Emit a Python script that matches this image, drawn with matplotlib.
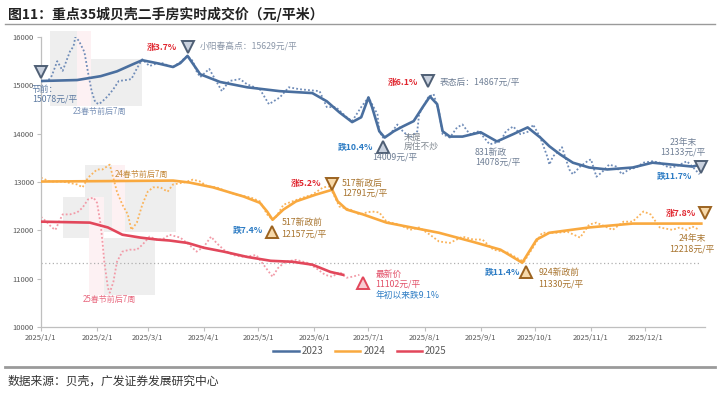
# -*-coding:utf8-*-
import matplotlib
matplotlib.use('Agg')
import matplotlib.pyplot as plt
from matplotlib.patches import Rectangle
from matplotlib.lines import Line2D
from matplotlib.transforms import offset_copy

plt.rcParams['font.family'] = ['Noto Sans CJK SC', 'DejaVu Sans']

# x轴：按2025年对齐的天数（0 = 1月1日）
tick_days = [0, 31, 59, 90, 120, 151, 181, 212, 243, 273, 304, 334]
tick_labels = ['2025/1/1', '2025/2/1', '2025/3/1', '2025/4/1', '2025/5/1', '2025/6/1',
               '2025/7/1', '2025/8/1', '2025/9/1', '2025/10/1', '2025/11/1', '2025/12/1']

# 2023 实时成交价（日度）
raw23_day = [0, 4, 6, 9, 12, 16, 18, 19, 21, 24, 26, 28, 30, 32, 34, 37, 40, 43, 47, 50, 53,
             56, 60, 63, 67, 71, 73, 77, 80, 81, 84, 86, 88, 93, 100, 104, 110, 114, 121, 126,
             132, 137, 143, 154, 158, 163, 169, 172, 177, 181, 186, 187, 189, 193, 197, 200,
             204, 208, 209, 214, 217, 220, 222, 226, 230, 233, 237, 242, 248, 254, 257, 261,
             265, 270, 272, 276, 280, 281, 283, 287, 288, 292, 294, 298, 302, 304, 307, 310,
             314, 318, 321, 325, 329, 333, 338, 342, 347, 351, 357, 360, 364]
raw23_val = [15080, 15100, 15200, 15500, 15300, 15700, 15810, 16000, 15920, 15690, 15270,
             14880, 14650, 14610, 14670, 14780, 14920, 15090, 15110, 15130, 15350, 15540,
             15400, 15440, 15460, 15400, 15380, 15480, 15580, 15610, 15500, 15290, 15170,
             15340, 14880, 15090, 15130, 15020, 14920, 14610, 14750, 14960, 14920, 14880,
             14550, 14550, 14340, 14260, 14550, 14750, 14400, 14050, 13920, 13990, 14190,
             14050, 13920, 14050, 14400, 14750, 14820, 14460, 13990, 13920, 14130, 14190,
             13990, 14050, 13780, 13840, 14050, 14150, 13990, 14050, 14190, 13920, 13510,
             13360, 13530, 13670, 13720, 13260, 13160, 13320, 13430, 13470, 13110, 13200,
             13360, 13320, 13160, 13260, 13300, 13400, 13430, 13400, 13300, 13320, 13430,
             13320, 13160]
# 2023 趋势
tr23_day = [0, 20, 33, 42, 51, 56, 64, 73, 77, 81, 88, 99, 114, 132, 150, 158, 165, 172, 177,
            181, 183, 187, 190, 195, 200, 206, 211, 215, 219, 222, 226, 233, 243, 252, 261,
            269, 276, 281, 287, 294, 303, 313, 327, 338, 349, 360, 365]
tr23_val = [15090, 15110, 15190, 15290, 15440, 15520, 15460, 15380, 15460, 15610, 15230,
            15070, 14960, 14880, 14840, 14670, 14440, 14240, 14340, 14750, 14550, 14050,
            13920, 14050, 14150, 14260, 14550, 14770, 14610, 14050, 13940, 13940, 14030,
            13840, 13990, 14130, 13920, 13740, 13570, 13400, 13300, 13260, 13300, 13400,
            13360, 13320, 13360]

# 2024 实时成交价
raw24_day = [0, 5, 12, 20, 23, 26, 31, 34, 38, 39, 42, 45, 48, 50, 53, 56, 59, 62, 66, 70,
             73, 79, 84, 88, 92, 97, 103, 108, 116, 121, 123, 125, 128, 130, 134, 139, 145,
             150, 156, 160, 161, 165, 171, 176, 180, 183, 187, 191, 198, 204, 209, 215, 220,
             226, 233, 239, 244, 250, 258, 263, 267, 274, 277, 285, 291, 298, 303, 307, 313,
             316, 322, 327, 333, 337, 342, 349, 353, 357, 360, 364]
raw24_val = [13090, 13010, 13010, 12950, 12890, 13090, 13260, 13260, 13360, 13220, 12800,
             12530, 12330, 12010, 12160, 12530, 12800, 12890, 12890, 12800, 12950, 12990,
             13050, 13010, 12910, 12890, 12800, 12740, 12680, 12600, 12470, 12330, 12220,
             12280, 12530, 12600, 12680, 12740, 12890, 12910, 12800, 12490, 12430, 12330,
             12370, 12390, 12370, 12180, 12120, 12010, 12060, 11910, 11770, 11740, 11870,
             11810, 11810, 11600, 11540, 11430, 11350, 11770, 11950, 11950, 11970, 11850,
             12120, 12160, 12060, 12010, 12180, 12180, 12390, 12330, 12060, 12010, 12060,
             12010, 12080, 12010]
tr24_day = [0, 40, 73, 82, 95, 112, 121, 125, 128, 134, 141, 152, 161, 164, 169, 178, 191,
            220, 239, 254, 266, 274, 281, 303, 327, 349, 365]
tr24_val = [13010, 13020, 13030, 12990, 12890, 12700, 12570, 12390, 12220, 12430, 12600,
            12740, 12840, 12600, 12430, 12330, 12160, 11950, 11760, 11600, 11330, 11810,
            11950, 12060, 12140, 12140, 12140]

# 2025 实时成交价
raw25_day = [0, 3, 6, 8, 10, 12, 16, 20, 23, 26, 29, 31, 33, 34, 35, 37, 38, 40, 42, 45, 49,
             53, 56, 60, 64, 67, 71, 77, 82, 86, 90, 94, 97, 101, 106, 112, 119, 123, 128,
             131, 135, 141, 147, 152, 157, 161, 165, 169, 172, 176]
raw25_val = [12280, 12180, 12060, 12010, 12180, 12330, 12330, 12370, 12470, 12640, 12680,
             12570, 12120, 11760, 11350, 10810, 10710, 10930, 11350, 11560, 11600, 11600,
             11700, 11870, 11810, 11810, 11910, 11850, 11700, 11560, 11660, 11870, 11740,
             11600, 11490, 11450, 11490, 11290, 11040, 11220, 11350, 11390, 11330, 11220,
             11080, 11040, 11140, 11020, 11040, 11080]
tr25_day = [0, 27, 37, 45, 55, 64, 71, 81, 90, 101, 114, 127, 139, 150, 160, 167]
tr25_val = [12180, 12160, 12060, 11910, 11850, 11810, 11790, 11740, 11640, 11560, 11450,
            11370, 11350, 11290, 11140, 11080]

# 春节前后7周区间：(起始日, 结束日, 下沿, 上沿, 类型)
sf_boxes = [(5, 20, 14570, 16120, 'pre'), (20, 27.6, 14570, 16120, 'fest'),
            (27.6, 55.8, 14570, 15540, 'post'),
            (24.3, 39.2, 11970, 13360, 'pre'), (39.2, 46.4, 11970, 13360, 'fest'),
            (46.4, 74.6, 11970, 13050, 'post'),
            (12.2, 26.5, 11850, 12680, 'pre'), (26.5, 34.8, 10660, 12680, 'fest'),
            (34.8, 63, 10660, 11850, 'post')]

ref_level = 11330

c23, c23r = '#4a6f9f', '#6f8cb8'
c24, c24r = '#f9a93f', '#fab35a'
c25, c25r = '#e2475b', '#f29aa7'

fig = plt.figure(figsize=(7.2, 3.96), dpi=100)
ax = fig.add_axes([0.0569, 0.1742, 0.9222, 0.7323])

for d0, d1, lo, hi, kind in sf_boxes:
    fc = '#fdf1f3' if kind == 'fest' else '#eeeeee'
    ax.add_patch(Rectangle((d0, lo), d1 - d0, hi - lo, facecolor=fc, edgecolor='none',
                           zorder=0, clip_on=False))

ax.plot([0, 365], [ref_level, ref_level], color='#b0b0b0', lw=0.9, ls=(0, (1, 2)), zorder=1)

dot = (0, (1, 1.2))
ax.plot(raw23_day, raw23_val, color=c23r, lw=1.3, ls=dot, zorder=2)
ax.plot(raw24_day, raw24_val, color=c24r, lw=1.3, ls=dot, zorder=2)
ax.plot(raw25_day, raw25_val, color=c25r, lw=1.3, ls=dot, zorder=2)
ax.plot(tr23_day, tr23_val, color=c23, lw=1.9, zorder=3, solid_joinstyle='round')
ax.plot(tr24_day, tr24_val, color=c24, lw=1.9, zorder=3, solid_joinstyle='round')
ax.plot(tr25_day, tr25_val, color=c25, lw=1.9, zorder=3, solid_joinstyle='round')

ax.set_xlim(0, 367)
ax.set_ylim(10000, 16000)
ax.set_xticks(tick_days)
ax.set_xticklabels(tick_labels)
ax.set_yticks(range(10000, 16001, 1000))
ax.tick_params(length=3, width=0.8, color='#bfbfbf', labelsize=5.5, labelcolor='#595959', pad=2)
for s in ['top', 'right']:
    ax.spines[s].set_visible(False)
for s in ['left', 'bottom']:
    ax.spines[s].set_color('#bfbfbf')
    ax.spines[s].set_linewidth(0.9)

# 三角标记
def mark(day, val, dy, m, fc, ec):
    tr = offset_copy(ax.transData, fig=fig, y=dy, units='points')
    ax.plot([day], [val], marker=m, ms=8, mfc=fc, mec=ec, mew=1.4, transform=tr,
            clip_on=False, zorder=6, ls='none')

bfc, bec = '#c9d1de', '#4f5f75'
ofc, oec = '#f7d9aa', '#9c6320'
rfc, rec = '#f8ccd3', '#e2475b'
mark(0, 15078, 6.8, 'v', bfc, bec)
mark(81, 15629, 5.5, 'v', bfc, bec)
mark(214, 14867, 7.5, 'v', bfc, bec)
mark(189, 14009, -10, '^', bfc, bec)
mark(365, 13133, 6.5, 'v', bfc, bec)
mark(161, 12791, 6, 'v', ofc, oec)
mark(127.6, 12157, -7, '^', ofc, oec)
mark(268, 11330, -7, '^', ofc, oec)
mark(367, 12218, 5, 'v', ofc, oec)
mark(178, 11102, -6.5, '^', rfc, rec)

up_c, dn_c = '#e0262f', '#2d7cc4'
g23, g24, g25 = '#6f7f95', '#a8742e', '#e25068'
fs = 6.3

def t(day, val, s, c, ha='left', bold=False, size=fs):
    ax.text(day, val, s, color=c, ha=ha, va='center', fontsize=size,
            fontweight='bold' if bold else 'normal', zorder=7, clip_on=False)

t(-5, 14920, '节前：', '#5a78a0')
t(-5, 14713, '15078元/平', '#5a78a0')
t(75, 15792, '涨3.7%', up_c, 'right', True)
t(87.8, 15792, '小阳春高点：15629元/平', '#8a96a8')
t(208.3, 15065, '涨6.1%', up_c, 'right', True)
t(220.4, 15065, '表态后：14867元/平', g23)
t(183.4, 13716, '跌10.4%', dn_c, 'right', True)
t(195.6, 13508, '14009元/平', g23, 'center')
t(200.5, 13924, '未提', '#808890')
t(200.5, 13737, '房住不炒', '#808890')
t(239.8, 13612, '831新政', g23)
t(239.8, 13405, '14078元/平', g23)
t(355, 13820, '23年末', g23, 'center')
t(355, 13612, '13133元/平', g23, 'center')
t(360, 13114, '跌11.7%', dn_c, 'right', True)
t(155, 12969, '涨5.2%', up_c, 'right', True)
t(166.3, 12969, '517新政后', g24)
t(166.3, 12782, '12791元/平', g24)
t(122.7, 11993, '跌7.4%', dn_c, 'right', True)
t(133, 12159, '517新政前', g24)
t(133, 11931, '12157元/平', g24)
t(264.6, 11121, '跌11.4%', dn_c, 'right', True)
t(275, 11121, '924新政前', g24)
t(275, 10893, '11330元/平', g24)
t(362, 12346, '涨7.8%', up_c, 'right', True)
t(360, 11827, '24年末', g24, 'center')
t(360, 11619, '12218元/平', g24, 'center')
t(185, 11080, '最新价', g25)
t(185, 10893, '11102元/平', g25)
t(185, 10644, '年初以来跌9.1%', dn_c)
t(32.6, 14463, '23春节前后7周', '#7b93b8', 'center', size=5.8)
t(40.9, 13156, '24春节前后7周', '#c4893a', size=5.8)
t(38, 10560, '25春节前后7周', '#e86a80', 'center', size=5.8)

handles = [Line2D([], [], color=c23, lw=1.8), Line2D([], [], color=c24, lw=1.8),
           Line2D([], [], color=c25, lw=1.8)]
fig.legend(handles, ['2023', '2024', '2025'], loc='center', bbox_to_anchor=(0.5, 1 - 351 / 396),
           ncol=3, frameon=False, fontsize=7, handlelength=2.6, columnspacing=1.2,
           handletextpad=0.3, labelcolor='#595959')

fig.text(0.011, 1 - 14 / 396, '图11：重点35城贝壳二手房实时成交价（元/平米）', fontsize=10,
         fontweight='bold', va='center', ha='left', color='#222222')
fig.add_artist(Line2D([0.007, 0.993], [1 - 24 / 396] * 2, color='#9a9a9a', lw=1.0))
fig.add_artist(Line2D([0.007, 0.993], [1 - 367 / 396] * 2, color='#9a9a9a', lw=2.0))
fig.text(0.011, 1 - 381 / 396, '数据来源：贝壳，广发证券发展研究中心', fontsize=8.5,
         va='center', ha='left', color='#333333')

fig.savefig('out.png', dpi=100)
